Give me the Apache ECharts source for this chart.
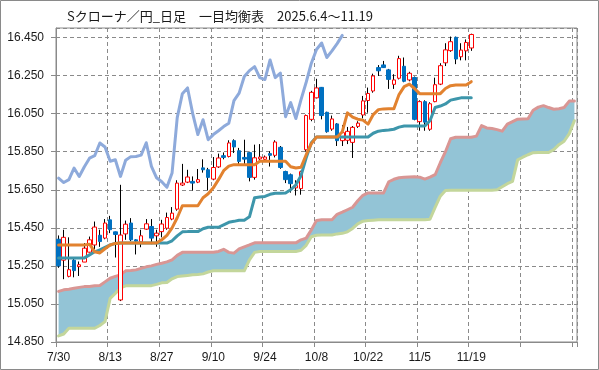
<!DOCTYPE html>
<html><head><meta charset="utf-8">
<script src="https://cdn.jsdelivr.net/npm/echarts@6/dist/echarts.min.js"></script>
<style>html,body{margin:0;padding:0;background:#fff}#c{width:599px;height:370px}</style>
</head><body><div id="c"></div>
<script>
const titleText = 'Sクローナ／円_日足　一目均衡表　2025.6.4～11.19';
const categories = ['7/30','7/31','8/1','8/4','8/5','8/6','8/7','8/8','8/11','8/12',
'8/13','8/14','8/15','8/18','8/19','8/20','8/21','8/22','8/25','8/26',
'8/27','8/28','8/29','9/1','9/2','9/3','9/4','9/5','9/8','9/9',
'9/10','9/11','9/12','9/15','9/16','9/17','9/18','9/19','9/22','9/23',
'9/24','9/25','9/26','9/29','9/30','10/1','10/2','10/3','10/6','10/7',
'10/8','10/9','10/10','10/13','10/14','10/15','10/16','10/17','10/20','10/21',
'10/22','10/23','10/24','10/27','10/28','10/29','10/30','10/31','11/3','11/4',
'11/5','11/6','11/7','11/10','11/11','11/12','11/13','11/14','11/17','11/18',
'11/19','11/20','11/21','11/24','11/25','11/26','11/27','11/28','12/1','12/2',
'12/3','12/4','12/5','12/8','12/9','12/10','12/11','12/12','12/15','12/16','12/17'];
const lastLabelIndex = 80;
const yTicks = {min:14.85, max:16.5, step:0.2};

const open = [15.39,15.28,15.195,15.28,15.246,15.27,15.322,15.36,15.411,15.396,
15.492,15.429,15.071,15.418,15.475,15.387,15.376,15.443,15.457,15.408,
15.43,15.448,15.496,15.548,15.675,15.69,15.694,15.69,15.765,15.755,
15.706,15.77,15.829,15.825,15.908,15.855,15.82,15.845,15.715,15.812,
15.81,15.84,15.831,15.873,15.746,15.729,15.66,15.656,15.86,16.02,
16.133,16.188,16.057,15.969,15.996,15.908,15.91,15.899,15.983,16.043,
16.119,16.169,16.292,16.306,16.28,16.204,16.236,16.299,16.227,16.24,
16.008,16.113,15.968,16.113,16.205,16.317,16.381,16.451,16.349,16.38,
16.395];
const close = [15.25,15.40,15.23,15.225,15.256,15.343,15.387,15.454,15.378,15.475,
15.44,15.415,15.412,15.469,15.387,15.38,15.408,15.471,15.396,15.422,
15.47,15.504,15.527,15.685,15.685,15.717,15.685,15.703,15.755,15.715,
15.767,15.817,15.82,15.896,15.875,15.799,15.811,15.715,15.818,15.822,
15.822,15.831,15.901,15.767,15.703,15.682,15.672,15.745,16.04,16.162,
16.185,16.04,15.955,16.022,15.908,15.95,15.957,15.978,16.0,16.117,
16.156,16.248,16.275,16.292,16.23,16.227,16.339,16.22,16.262,16.02,
16.113,16.005,16.102,16.202,16.302,16.385,16.428,16.337,16.384,16.424,
16.466];
const low = [15.24,15.18,15.19,15.19,15.197,15.27,15.32,15.338,15.35,15.39,
15.422,15.294,15.065,15.387,15.38,15.31,15.348,15.44,15.364,15.35,
15.40,15.44,15.49,15.54,15.67,15.685,15.646,15.685,15.74,15.646,
15.70,15.765,15.81,15.82,15.843,15.778,15.78,15.694,15.703,15.80,
15.80,15.772,15.82,15.76,15.685,15.635,15.62,15.624,15.85,16.01,
16.13,16.02,15.95,15.96,15.88,15.88,15.89,15.817,15.975,16.025,
16.055,16.16,16.248,16.29,16.18,16.18,16.23,16.215,16.22,16.015,
15.96,15.96,15.96,16.11,16.20,16.30,16.375,16.31,16.33,16.33,
16.38];
const high = [15.41,15.44,15.40,15.29,15.273,15.37,15.404,15.483,15.44,15.496,
15.513,15.43,15.676,15.488,15.501,15.39,15.44,15.496,15.496,15.44,
15.492,15.53,15.559,15.70,15.786,15.755,15.72,15.759,15.81,15.765,
15.822,15.84,15.846,15.91,15.915,15.87,15.913,15.85,15.887,15.89,
15.83,15.852,15.91,15.88,15.75,15.735,15.70,15.75,16.045,16.17,
16.233,16.19,16.06,16.04,16.0,15.99,15.98,15.985,16.01,16.143,
16.187,16.26,16.305,16.327,16.285,16.257,16.354,16.345,16.27,16.245,
16.12,16.12,16.11,16.239,16.315,16.42,16.455,16.455,16.42,16.44,
16.47];

const tenkan = [15.36,15.36,15.36,15.36,15.36,15.36,15.364,15.324,15.318,15.34,
15.36,15.368,15.37,15.37,15.37,15.37,15.37,15.37,15.37,15.37,
15.387,15.41,15.45,15.503,15.566,15.566,15.566,15.566,15.608,15.629,
15.66,15.703,15.75,15.774,15.782,15.782,15.782,15.782,15.782,15.80,
15.80,15.80,15.80,15.80,15.80,15.771,15.764,15.768,15.834,15.892,
15.927,15.927,15.927,15.927,15.927,15.955,16.054,16.032,16.021,16.016,
15.995,16.045,16.071,16.075,16.076,16.076,16.15,16.192,16.205,16.182,
16.155,16.155,16.155,16.155,16.155,16.182,16.197,16.201,16.201,16.201,
16.218];
const kijun = [15.292,15.292,15.292,15.292,15.292,15.292,15.308,15.324,15.334,15.347,
15.36,15.368,15.37,15.37,15.37,15.37,15.37,15.37,15.37,15.37,
15.37,15.37,15.382,15.408,15.429,15.43,15.43,15.43,15.445,15.453,
15.453,15.453,15.466,15.479,15.484,15.49,15.49,15.508,15.608,15.612,
15.615,15.626,15.632,15.632,15.633,15.65,15.676,15.724,15.818,15.897,
15.927,15.927,15.927,15.927,15.927,15.927,15.927,15.927,15.927,15.927,
15.927,15.947,15.958,15.962,15.964,15.968,15.979,15.985,15.985,15.985,
15.985,15.985,16.013,16.082,16.09,16.101,16.121,16.127,16.133,16.133,
16.133];
const chikou = [15.711,15.688,15.703,15.764,15.72,15.771,15.816,15.829,15.896,15.875,
15.80,15.808,15.72,15.805,15.824,15.825,15.832,15.897,15.773,15.713,
15.692,15.663,15.738,16.029,16.155,16.185,16.05,15.94,16.018,15.913,
15.94,15.96,15.982,16.0,16.118,16.158,16.245,16.276,16.297,16.239,
16.229,16.332,16.239,16.263,16.034,16.108,16.024,16.124,16.215,16.315,
16.387,16.421,16.345,16.38,16.418,16.461];
const senkouA = [15.116,15.124,15.127,15.132,15.137,15.141,15.142,15.145,15.147,15.166,
15.185,15.195,15.203,15.224,15.226,15.229,15.237,15.245,15.25,15.258,
15.264,15.271,15.282,15.305,15.321,15.321,15.321,15.321,15.321,15.321,
15.322,15.326,15.337,15.321,15.317,15.339,15.35,15.36,15.371,15.371,
15.371,15.371,15.371,15.371,15.371,15.371,15.371,15.387,15.396,15.439,
15.489,15.492,15.492,15.492,15.521,15.532,15.545,15.558,15.592,15.621,
15.633,15.633,15.633,15.633,15.692,15.705,15.713,15.716,15.717,15.718,
15.716,15.706,15.716,15.729,15.792,15.85,15.918,15.926,15.926,15.926,
15.926,15.932,15.987,15.975,15.972,15.966,15.958,15.995,16.008,16.021,
16.022,16.023,16.068,16.084,16.092,16.082,16.073,16.076,16.082,16.116,
16.116];
const senkouB = [14.882,14.892,14.922,14.922,14.922,14.922,14.922,14.922,14.937,14.957,
15.079,15.105,15.134,15.145,15.146,15.146,15.146,15.146,15.146,15.153,
15.161,15.163,15.182,15.194,15.197,15.2,15.203,15.205,15.208,15.218,
15.224,15.224,15.224,15.224,15.224,15.224,15.224,15.282,15.321,15.326,
15.326,15.326,15.326,15.326,15.326,15.326,15.326,15.332,15.358,15.403,
15.411,15.412,15.412,15.412,15.418,15.421,15.429,15.447,15.471,15.485,
15.488,15.49,15.492,15.492,15.492,15.492,15.492,15.492,15.492,15.492,
15.492,15.492,15.495,15.557,15.616,15.646,15.648,15.648,15.648,15.648,
15.648,15.648,15.648,15.648,15.648,15.65,15.666,15.682,15.694,15.807,
15.821,15.834,15.845,15.846,15.846,15.846,15.861,15.887,15.905,15.945,
16.013];

const wickData = open.map((o,i)=>[o, close[i], low[i], high[i]]);
const bodyData = open.map((o,i)=>[o, close[i], Math.min(o,close[i]), Math.max(o,close[i])]);
const cloudDiff = senkouA.map((a,i)=>+(a - senkouB[i]).toFixed(4));

const chart = echarts.init(document.getElementById('c'), null, {renderer:'canvas'});
const gridCol = '#8a8a8a';
const lineBase = {type:'line', symbol:'none', showSymbol:false, smooth:false, silent:true};
chart.setOption({
  animation:false,
  backgroundColor:'#ffffff',
  title:{text:titleText, left:62, top:5,
    textStyle:{fontFamily:'Noto Sans CJK JP', fontSize:13, fontWeight:'normal', color:'#1a1a1a'}},
  grid:{left:56, right:22, top:28, bottom:28, show:true, borderColor:gridCol, borderWidth:1,
    containLabel:false, outerBoundsMode:'none'},
  xAxis:{type:'category', data:categories, boundaryGap:true,
    axisLine:{lineStyle:{color:gridCol}},
    axisTick:{show:true, interval:9, length:5, lineStyle:{color:gridCol}},
    axisLabel:{interval:9, color:'#1a1a1a', fontSize:12, fontFamily:'Liberation Sans', margin:10,
      formatter:(v,i)=> i<=lastLabelIndex ? v : ''},
    splitLine:{show:true, interval:9, lineStyle:{color:gridCol, type:[4,3], width:1}}},
  yAxis:{type:'value', min:yTicks.min, max:yTicks.max, interval:yTicks.step,
    axisLine:{show:true, lineStyle:{color:gridCol}},
    axisTick:{show:true, length:5, lineStyle:{color:gridCol}},
    axisLabel:{color:'#1a1a1a', fontSize:12, fontFamily:'Liberation Sans', margin:12, showMaxLabel:false,
      formatter:v=>v.toFixed(3)},
    splitLine:{show:true, lineStyle:{color:gridCol, type:[4,3], width:1}}},
  graphic:[{type:'rect', shape:{x:0.5,y:0.5,width:598,height:369}, style:{fill:null, stroke:'#8a8a8a', lineWidth:1}, silent:true, z:100}],
  series:[
    Object.assign({}, lineBase, {name:'cloudBase', data:senkouB, stack:'kumo', lineStyle:{width:0, opacity:0}, z:1}),
    Object.assign({}, lineBase, {name:'cloud', data:cloudDiff, stack:'kumo', lineStyle:{width:0, opacity:0},
      areaStyle:{color:'#93c4d6', opacity:1}, z:1}),
    Object.assign({}, lineBase, {name:'senkouA', data:senkouA, lineStyle:{color:'#d99694', width:3, join:'round', cap:'round'}, z:2}),
    Object.assign({}, lineBase, {name:'senkouB', data:senkouB, lineStyle:{color:'#c3d69b', width:3, join:'round', cap:'round'}, z:2}),
    {type:'candlestick', name:'wick', data:wickData, barWidth:1, silent:true, z:3,
      itemStyle:{color:'#000', color0:'#000', borderColor:'#000', borderColor0:'#000', borderWidth:1}},
    {type:'candlestick', name:'body', data:bodyData, barWidth:4, silent:true, z:3,
      itemStyle:{color:'#ffffff', color0:'#0070c0', borderColor:'#ff0000', borderColor0:'#0070c0', borderWidth:1}},
    Object.assign({}, lineBase, {name:'chikou', data:chikou, lineStyle:{color:'#8eaadb', width:3, join:'round', cap:'round'}, z:4}),
    Object.assign({}, lineBase, {name:'kijun', data:kijun, lineStyle:{color:'#3d96ab', width:3, join:'round', cap:'round'}, z:4}),
    Object.assign({}, lineBase, {name:'tenkan', data:tenkan, lineStyle:{color:'#e2822f', width:3, join:'round', cap:'round'}, z:4})
  ]
});
</script></body></html>
